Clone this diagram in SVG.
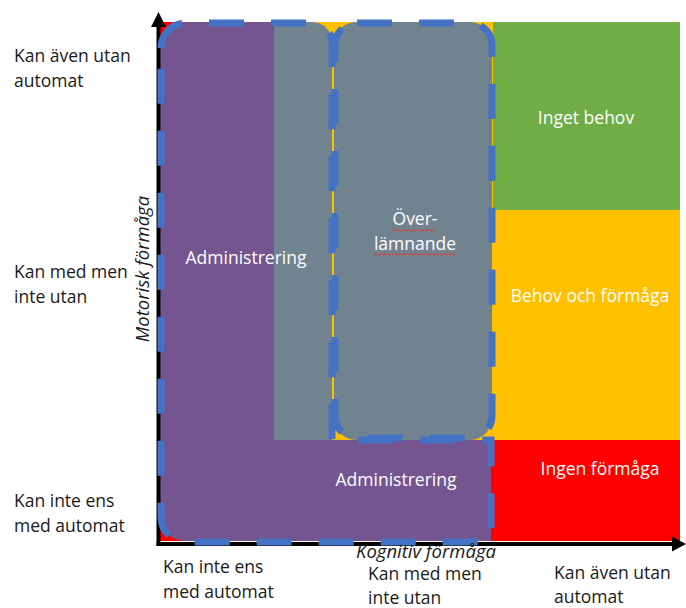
<svg xmlns="http://www.w3.org/2000/svg" width="686" height="608" viewBox="0 0 686 608">
<style>
.lbl{font-family:"Open Sans","Liberation Sans",sans-serif;font-size:17.5px;fill:#1a1a1a}
.in{font-family:"Open Sans","Liberation Sans",sans-serif;font-size:17.5px;fill:#ffffff;text-anchor:middle}
.ax{font-family:"Open Sans","Liberation Sans",sans-serif;font-size:18.5px;font-style:italic;fill:#1a1a1a;text-anchor:middle}
.dash{fill:none;stroke:#4472C4;stroke-width:7;stroke-dasharray:35 27}
.axis{stroke:#000;stroke-width:4;fill:none}
.wave{fill:none;stroke:#e0403a;stroke-width:1}
</style>
<rect width="686" height="608" fill="#ffffff"/>
<g id="background">
<rect x="160" y="22" width="520" height="519" fill="#FF0000"/>
<rect x="274" y="22" width="406" height="418" fill="#FFC000"/>
<rect x="493" y="22" width="187" height="188" fill="#70AD47"/>
</g>
<g id="node-inget-behov"><text class="in" x="586" y="124">Inget behov</text></g>
<g id="node-behov-och-formaga"><text class="in" x="590" y="302">Behov och förmåga</text></g>
<g id="node-ingen-formaga"><text class="in" x="600" y="475">Ingen förmåga</text></g>
<g id="node-overlamnande-fill">
<path d="M274,22 L312,22 A20,20 0 0 1 332,42 L332,440 L274,440 Z" fill="#71838F"/>
<rect x="334" y="22" width="158" height="418" rx="22" fill="#71838F"/>
</g>
<g id="node-administrering-fill">
<path d="M160,47 A25,25 0 0 1 185,22 L274,22 L274,440 L491,440 L491,541 L185,541 A25,25 0 0 1 160,516 Z" fill="#75558F"/>
</g>
<g id="axes">
<line class="axis" x1="158.5" y1="546" x2="158.5" y2="26"/>
<polygon points="151,27 158.5,12 166,27" fill="#000"/>
<line class="axis" x1="156.5" y1="544" x2="674" y2="544"/>
<polygon points="672,536.5 686,544 672,551.5" fill="#000"/>
</g>
<g id="connectors">
<path class="dash" d="M161,48 A25,25 0 0 1 186,23 L313,23 A19,19 0 0 1 332,42 L332,440 L491,440 L491,542 L186,542 A25,25 0 0 1 161,517 Z"/>
<rect class="dash" x="335" y="23" width="157" height="415" rx="22"/>
</g>
<g id="node-administrering">
<text class="in" x="246" y="264">Administrering</text>
<text class="in" x="396" y="486">Administrering</text>
</g>
<g id="node-overlamnande">
<text class="in" x="415" y="225">Över-</text>
<text class="in" x="415" y="250">lämnande</text>
<path class="wave" d="M392,231 l2,-1.5 l2,1.5 l2,-1.5 l2,1.5 l2,-1.5 l2,1.5 l2,-1.5 l2,1.5 l2,-1.5 l2,1.5 l2,-1.5 l2,1.5 l2,-1.5 l2,1.5 l2,-1.5 l2,1.5 l2,-1.5 l2,1.5 l2,-1.5 l2,1.5 l2,-1.5 l2,1.5"/>
<path class="wave" d="M374,255 l2,-1.5 l2,1.5 l2,-1.5 l2,1.5 l2,-1.5 l2,1.5 l2,-1.5 l2,1.5 l2,-1.5 l2,1.5 l2,-1.5 l2,1.5 l2,-1.5 l2,1.5 l2,-1.5 l2,1.5 l2,-1.5 l2,1.5 l2,-1.5 l2,1.5 l2,-1.5 l2,1.5 l2,-1.5 l2,1.5 l2,-1.5 l2,1.5 l2,-1.5 l2,1.5 l2,-1.5 l2,1.5 l2,-1.5 l2,1.5 l2,-1.5 l2,1.5 l2,-1.5 l2,1.5 l2,-1.5 l2,1.5 l2,-1.5 l2,1.5 l2,-1.5"/>
</g>
<g id="labels-y">
<text class="lbl" x="14" y="62">Kan även utan</text>
<text class="lbl" x="14" y="87">automat</text>
<text class="lbl" x="14" y="278">Kan med men</text>
<text class="lbl" x="14" y="303">inte utan</text>
<text class="lbl" x="14" y="507">Kan inte ens</text>
<text class="lbl" x="14" y="532">med automat</text>
<text class="ax" transform="translate(149,269) rotate(-90)">Motorisk förmåga</text>
</g>
<g id="labels-x">
<text class="lbl" x="163" y="573">Kan inte ens</text>
<text class="lbl" x="163" y="598">med automat</text>
<text class="ax" x="426" y="558">Kognitiv förmåga</text>
<text class="lbl" x="368" y="580">Kan med men</text>
<text class="lbl" x="368" y="604">inte utan</text>
<text class="lbl" x="554" y="579">Kan även utan</text>
<text class="lbl" x="554" y="603">automat</text>
</g>
</svg>
